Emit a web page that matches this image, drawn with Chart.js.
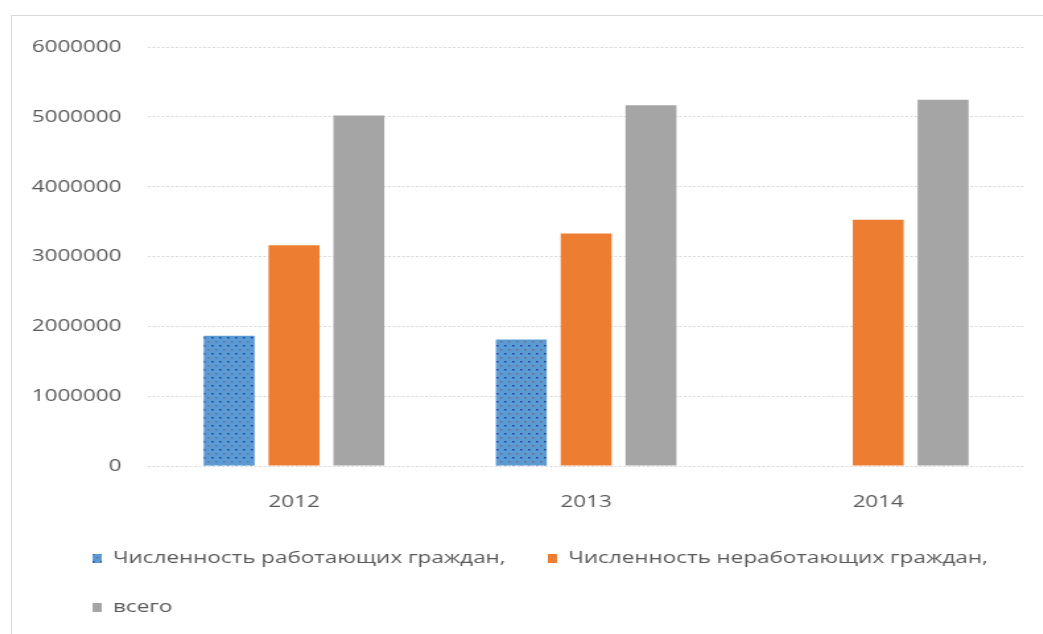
<!DOCTYPE html>
<html>
<head>
<meta charset="utf-8">
<script src="https://cdn.jsdelivr.net/npm/chart.js@4"></script>
<style>
  body { margin: 0; background: #fff; overflow: hidden; }
  .box { position: absolute; left: 11px; top: 15px; width: 1100px; height: 700px; border: 1px solid #d9d9d9; }
  #chart { display: block; }
</style>
</head>
<body>
<div class="box"><canvas id="chart" width="788" height="630" style="width:1040px;height:630px"></canvas></div>
<script>
var years = ['2012', '2013', '2014'];
var working = [1865000, 1810000, null];
var nonWorking = [3160000, 3330000, 3525000];
var total = [5020000, 5165000, 5245000];
var seriesNames = ['Численность работающих граждан,', 'Численность неработающих граждан,', 'всего'];

var canvas = document.getElementById('chart');
var ctx = canvas.getContext('2d');

// dotted fill for the first series
function dotted() {
  var c = document.createElement('canvas');
  c.width = 6; c.height = 8;
  var g = c.getContext('2d');
  g.fillStyle = '#5B9BD5';
  g.fillRect(0, 0, 6, 8);
  g.fillStyle = '#1f3f8f';
  g.fillRect(1, 1, 1.5, 1.5);
  g.fillStyle = '#6a6f86';
  g.fillRect(4, 5, 1.5, 1.5);
  return ctx.createPattern(c, 'repeat');
}

// push the legend right so it starts under the axis labels
var legendIndent = {
  id: 'legendIndent',
  afterLayout: function (chart) {
    chart.legend.left += 29;
    chart.legend.right += 29;
  }
};

var grey = '#595959';
var font = { family: "'Open Sans'", size: 17 };

var options = {
  type: 'bar',
  data: {
    labels: years,
    datasets: [
      { label: seriesNames[0], data: working, backgroundColor: dotted() },
      { label: seriesNames[1], data: nonWorking, backgroundColor: '#ED7D31' },
      { label: seriesNames[2], data: total, backgroundColor: '#A5A5A5' }
    ]
  },
  options: {
    responsive: false,
    animation: false,
    devicePixelRatio: 1,
    categoryPercentage: 0.666,
    barPercentage: 0.785,
    layout: { padding: { left: 0, right: 21, top: 31, bottom: 20 } },
    scales: {
      x: {
        grid: { display: false },
        border: { display: false },
        ticks: { color: grey, font: font, padding: 18 },
        afterFit: function (s) { s.height = 52; }
      },
      y: {
        min: 0,
        max: 6000000,
        grid: { color: '#d9d9d9', drawTicks: false, lineWidth: 1 },
        border: { display: false, dash: [2, 1.5] },
        ticks: {
          stepSize: 1000000,
          color: grey,
          font: font,
          padding: 20,
          callback: function (v) { return String(v); }
        },
        afterFit: function (s) { s.width = 103; }
      }
    },
    plugins: {
      tooltip: { enabled: false },
      legend: {
        position: 'bottom',
        align: 'start',
        labels: { color: grey, font: font, boxWidth: 7, boxHeight: 9, padding: 32 }
      }
    }
  },
  plugins: [legendIndent]
};

new Chart(ctx, options);
</script>
</body>
</html>
